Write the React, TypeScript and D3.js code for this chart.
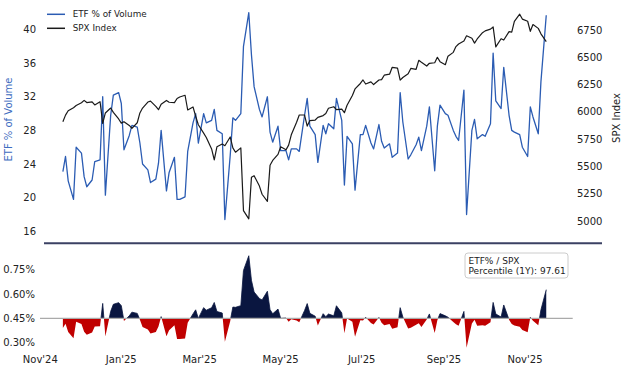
import React from 'react';
import * as d3 from 'd3';

// every other trading day, starting Mon 18 Nov 2024
const startDate = new Date(2024, 10, 18);

const etfPct = [
  23.1, 24.9, 22.0, 19.8, 26.0, 25.3, 22.5, 21.3, 22.1, 24.3,
  24.5, 32.0, 20.3, 29.8, 32.2, 32.5, 31.2, 25.7, 27.4, 28.6,
  28.4, 26.5, 24.0, 23.3, 21.8, 22.2, 24.1, 28.0, 20.8, 23.0,
  24.8, 19.8, 19.8, 20.1, 25.5, 28.9, 30.0, 26.5, 30.0, 28.9,
  29.2, 30.5, 28.0, 27.6, 17.4, 25.0, 29.5, 29.2, 30.0, 38.0,
  42.0, 37.0, 33.2, 30.5, 29.6, 32.0, 27.8, 26.6, 28.5, 25.6,
  25.6, 24.5, 25.8, 25.8, 25.5, 29.8, 31.8, 28.5, 27.5, 24.2,
  28.6, 27.6, 28.8, 28.2, 31.8, 29.2, 21.5, 27.3, 26.4, 20.9,
  27.5, 27.5, 28.6, 26.5, 25.8, 28.7, 26.7, 25.9, 26.4, 24.8,
  25.3, 32.5, 29.0, 24.6, 25.1, 26.3, 27.2, 25.6, 28.5, 30.8,
  23.2, 28.5, 31.0, 30.0, 29.8, 28.0, 27.3, 26.8, 32.8, 18.0,
  28.0, 29.3, 27.0, 27.5, 27.3, 28.8, 37.2, 31.5, 30.6, 35.5,
  29.8, 28.0, 27.8, 27.5, 26.0, 24.9, 30.8, 29.6, 27.6, 33.8,
  41.7,
];

const spxIndex = [
  5910, 5970, 6010, 6038, 6058, 6084, 6105, 6085, 6092, 6063,
  6093, 5895, 5990, 6035, 5995, 5935, 5897, 5910, 5876, 5849,
  5900, 5990, 6035, 6090, 6098, 6050, 6020, 6070, 6105, 6088,
  6085, 6122, 6136, 6152, 6017, 6045, 5960, 5882, 5805, 5765,
  5660, 5560, 5680, 5705, 5690, 5770, 5670, 5630, 5670, 5095,
  5020, 5400, 5415, 5320, 5245, 5180, 5510, 5555, 5610, 5680,
  5652, 5695, 5790, 5905, 5971, 5971, 5870, 5920, 5925, 5950,
  5966, 5985, 6033, 6047, 6020, 6025, 5992, 6060, 6150, 6210,
  6260, 6292, 6255, 6275, 6250, 6292, 6295, 6336, 6345, 6408,
  6400, 6290, 6315, 6350, 6398, 6390, 6472, 6454, 6420, 6445,
  6450, 6500, 6460, 6432, 6510, 6545, 6598, 6622, 6650, 6697,
  6675, 6630, 6668, 6725, 6742, 6758, 6778, 6595, 6670, 6658,
  6735, 6730, 6830, 6895, 6850, 6830, 6738, 6800, 6765, 6715,
  6643,
];

const etfTicks = [16, 20, 24, 28, 32, 36, 40];
const spxTicks = [5000, 5250, 5500, 5750, 6000, 6250, 6500, 6750];
const ratioTicks = [0.3, 0.45, 0.6, 0.75];
const monthTicks = [
  new Date(2024, 10, 1), new Date(2025, 0, 1), new Date(2025, 2, 1), new Date(2025, 4, 1),
  new Date(2025, 6, 1), new Date(2025, 8, 1), new Date(2025, 10, 1),
];
const ratioBaseline = 0.45;
const noteLines = ['ETF% / SPX', 'Percentile (1Y): 97.61'];

const BLUE = '#2b5cb3';
const NAVY = '#0a1640';
const RED = '#c00000';
const FONT = 'DejaVu Sans, sans-serif';

function tradingDates(n: number) {
  const out: Date[] = [];
  const d = new Date(startDate);
  let k = 0;
  while (out.length < n) {
    const wd = d.getDay();
    if (wd !== 0 && wd !== 6) {
      if (k % 2 === 0) out.push(new Date(d));
      k++;
    }
    d.setDate(d.getDate() + 1);
  }
  return out;
}

export default function App() {
  const dates = tradingDates(etfPct.length);
  const ratio = etfPct.map((v, i) => (v / spxIndex[i]) * 100);

  const x = d3.scaleTime()
    .domain([new Date(2024, 10, 1), new Date(2025, 10, 1)])
    .range([40.3, 525]);
  const yEtf = d3.scaleLinear().domain([16, 40]).range([231.3, 29.5]);
  const ySpx = d3.scaleLinear().domain([5000, 6750]).range([221, 30]);
  const yRat = d3.scaleLinear().domain([0.3, 0.75]).range([342.8, 269.8]);

  const etfLine = d3.line<number>().x((_, i) => x(dates[i])).y((d) => yEtf(d));
  const spxLine = d3.line<number>().x((_, i) => x(dates[i])).y((d) => ySpx(d));
  const base = yRat(ratioBaseline);
  const ratioArea = d3.area<number>()
    .x((_, i) => x(dates[i]))
    .y0(base)
    .y1((d) => yRat(d));
  const ratioEdge = d3.line<number>().x((_, i) => x(dates[i])).y((d) => yRat(d));

  const fmtPct = (v: number) => v.toFixed(2) + '%';
  const monthFmt = d3.timeFormat("%b'%y");

  return (
    <svg width={624} height={371} style={{ position: 'absolute', left: 0, top: 0 }} fontFamily={FONT}>
      <rect width={624} height={371} fill="#fff" />
      <defs>
        <clipPath id="above"><rect x={0} y={0} width={624} height={base} /></clipPath>
        <clipPath id="below"><rect x={0} y={base} width={624} height={371 - base} /></clipPath>
      </defs>

      {/* top panel */}
      <path d={etfLine(etfPct) ?? ''} fill="none" stroke={BLUE} strokeWidth={1.3} strokeLinejoin="round" />
      <path d={spxLine(spxIndex) ?? ''} fill="none" stroke="#1a1a1a" strokeWidth={1.2} strokeLinejoin="round" />

      {etfTicks.map((t) => (
        <text key={t} x={36} y={yEtf(t)} dy="0.35em" textAnchor="end" fontSize={10} fill="#222">{t}</text>
      ))}
      {spxTicks.map((t) => (
        <text key={t} x={577} y={ySpx(t)} dy="0.35em" fontSize={10} fill="#222">{t}</text>
      ))}
      <text transform="translate(8,119.5) rotate(-90)" textAnchor="middle" dominantBaseline="central" fontSize={10} fill="#3d6cc0">ETF % of Volume</text>
      <text transform="translate(616,118) rotate(-90)" textAnchor="middle" dominantBaseline="central" fontSize={10} fill="#222">SPX Index</text>

      {/* legend */}
      <line x1={47} x2={65} y1={14.3} y2={14.3} stroke={BLUE} strokeWidth={1.5} />
      <text x={72.7} y={14.3} dy="0.35em" fontSize={8.8} fill="#222">ETF % of Volume</text>
      <line x1={47} x2={65} y1={28.3} y2={28.3} stroke="#1a1a1a" strokeWidth={1.5} />
      <text x={72.7} y={28.3} dy="0.35em" fontSize={8.8} fill="#222">SPX Index</text>

      <line x1={44} x2={602} y1={243.3} y2={243.3} stroke="#3b4163" strokeWidth={2} />

      {/* bottom panel */}
      <path d={ratioArea(ratio) ?? ''} fill={NAVY} clipPath="url(#above)" />
      <path d={ratioEdge(ratio) ?? ''} fill="none" stroke={NAVY} strokeWidth={0.8} clipPath="url(#above)" />
      <path d={ratioArea(ratio) ?? ''} fill={RED} clipPath="url(#below)" />
      <line x1={40} x2={572.7} y1={base} y2={base} stroke="#aaaaaa" strokeWidth={1.2} />

      {ratioTicks.map((t) => (
        <text key={t} x={35} y={yRat(t)} dy="0.35em" textAnchor="end" fontSize={10} fill="#222">{fmtPct(t)}</text>
      ))}
      {monthTicks.map((t) => (
        <text key={t.getTime()} x={x(t)} y={359} dy="0.35em" textAnchor="middle" fontSize={10} fill="#222">{monthFmt(t)}</text>
      ))}

      <rect x={465} y={253} width={103} height={25} rx={3} fill="#fff" stroke="#cccccc" strokeWidth={1} />
      {noteLines.map((s, i) => (
        <text key={s} x={468.5} y={260.7 + i * 10.4} dy="0.35em" fontSize={9} fill="#222">{s}</text>
      ))}
    </svg>
  );
}
